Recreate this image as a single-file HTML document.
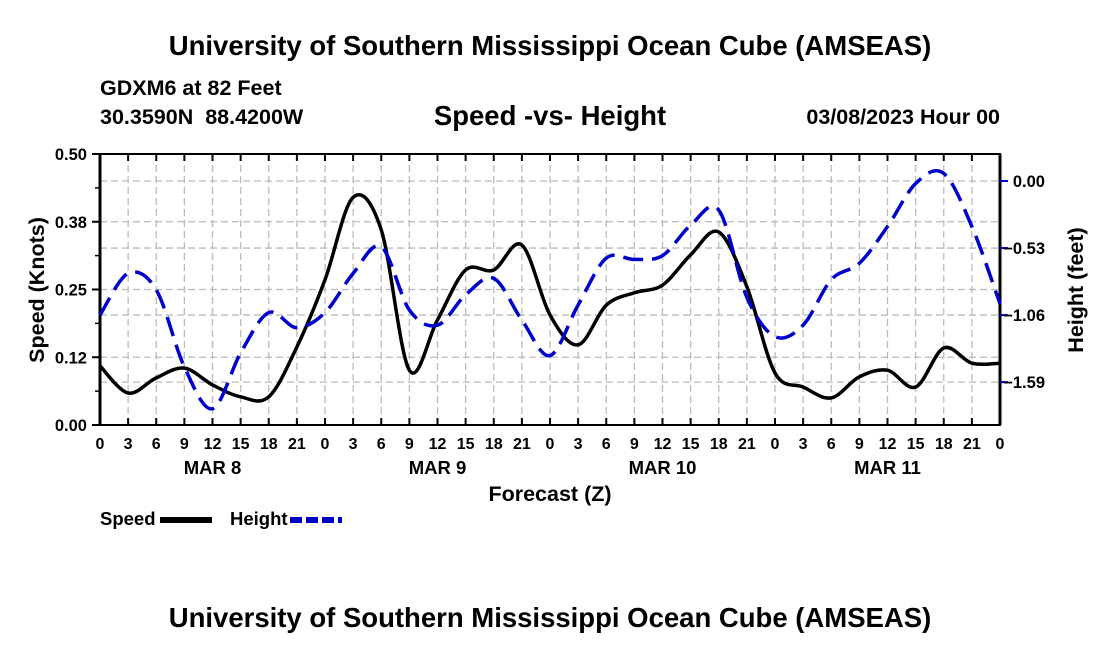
<!DOCTYPE html>
<html><head><meta charset="utf-8"><style>
body{margin:0;background:#fff;font-family:"Liberation Sans",sans-serif}
svg text{font-family:"Liberation Sans",sans-serif;font-weight:bold;fill:#000;white-space:pre}
</style></head><body>
<svg id="c" width="1100" height="650">
<text x="550" y="55" font-size="27.5" text-anchor="middle">University of Southern Mississippi Ocean Cube (AMSEAS)</text>
<text x="100" y="95" font-size="21.5">GDXM6 at 82 Feet</text>
<text x="100" y="124" font-size="21.5" xml:space="preserve">30.3590N  88.4200W</text>
<text x="550" y="125" font-size="27.5" text-anchor="middle">Speed -vs- Height</text>
<text x="1000" y="124" font-size="21.5" text-anchor="end">03/08/2023 Hour 00</text>
<text x="550" y="627" font-size="27.5" text-anchor="middle">University of Southern Mississippi Ocean Cube (AMSEAS)</text>
<g id="grid"></g><g id="axes"></g><g id="series"></g>
<text x="550" y="501" font-size="21.5" text-anchor="middle">Forecast (Z)</text>
<text transform="translate(44,290) rotate(-90)" font-size="21.5" text-anchor="middle">Speed (Knots)</text>
<text transform="translate(1083,290) rotate(-90)" font-size="21.5" text-anchor="middle">Height (feet)</text>
<g><text x="100" y="525" font-size="18.5">Speed</text><line x1="160" y1="520" x2="212" y2="520" stroke="#000" stroke-width="6"/></g>
<g><text x="230" y="525" font-size="18.5">Height</text><line x1="290" y1="520" x2="342" y2="520" stroke="#00c" stroke-width="6" stroke-dasharray="12,4"/></g>
</svg>
<script>
const hours=[0,3,6,9,12,15,18,21,24,27,30,33,36,39,42,45,48,51,54,57,60,63,66,69,72,75,78,81,84,87,90,93,96];
const speed=[0.109,0.059,0.087,0.105,0.074,0.052,0.052,0.144,0.268,0.42,0.36,0.101,0.194,0.286,0.286,0.332,0.203,0.148,0.221,0.244,0.258,0.314,0.356,0.255,0.096,0.070,0.050,0.089,0.101,0.070,0.142,0.114,0.114];
const height=[-1.06,-0.73,-0.86,-1.47,-1.80,-1.36,-1.04,-1.16,-1.04,-0.73,-0.52,-1.02,-1.14,-0.90,-0.77,-1.10,-1.38,-0.98,-0.61,-0.62,-0.59,-0.35,-0.23,-0.92,-1.23,-1.14,-0.78,-0.65,-0.36,-0.02,0.06,-0.36,-0.97];
const speedTicks=[0,0.125,0.25,0.375,0.5];
const speedTickLabels=["0.00","0.12","0.25","0.38","0.50"];
const heightTicks=[0,-0.53,-1.06,-1.59];
const heightTickLabels=["0.00","\u22120.53","\u22121.06","\u22121.59"];
const dayLabels=["MAR 8","MAR 9","MAR 10","MAR 11"];
const L=100,R=1000,T=154,B=425;
const hMax=0.2136,hMin=-1.929;
const x=h=>L+(h/96)*(R-L);
const y=v=>B-(v/0.5)*(B-T);
const y2=v=>T+(hMax-v)/(hMax-hMin)*(B-T);
const NS='http://www.w3.org/2000/svg';
function mk(t,a,p){const e=document.createElementNS(NS,t);for(const k in a)e.setAttribute(k,a[k]);p.appendChild(e);return e;}
const grid=document.getElementById('grid'),axes=document.getElementById('axes'),ser=document.getElementById('series');
for(let h=3;h<96;h+=3){const l=mk('line',{x1:x(h),x2:x(h),y1:T,y2:B,stroke:'#bbb','stroke-width':1.3,'stroke-dasharray':'7,4'},grid);

}
speedTicks.forEach(v=>{const l=mk('line',{x1:L,x2:R,y1:y(v),y2:y(v),stroke:'#bbb','stroke-width':1.3,'stroke-dasharray':'7,4'},grid);

});
heightTicks.forEach(v=>{const l=mk('line',{x1:L,x2:R,y1:y2(v),y2:y2(v),stroke:'#bbb','stroke-width':1.3,'stroke-dasharray':'7,4'},grid);

});
mk('rect',{x:L,y:T,width:R-L,height:B-T,fill:'none',stroke:'#000','stroke-width':2},axes);
mk('line',{x1:L,x2:L,y1:T,y2:B,stroke:'#000','stroke-width':3},axes);
mk('line',{x1:R,x2:R,y1:T,y2:B,stroke:'#000','stroke-width':3},axes);
mk('line',{x1:L,x2:R,y1:T,y2:T,stroke:'#000','stroke-width':2,'stroke-dasharray':'2,3'},axes);
speedTicks.forEach((v,i)=>{mk('line',{x1:L-8,x2:L,y1:y(v),y2:y(v),stroke:'#000','stroke-width':2},axes);
const t=mk('text',{x:L-13,y:y(v)+6,'font-size':16.5,'text-anchor':'end'},axes);t.textContent=speedTickLabels[i];


if(i<speedTicks.length-1){const m=y(v+0.0625);mk('line',{x1:L-5,x2:L,y1:m,y2:m,stroke:'#000','stroke-width':1.5},axes);}});
heightTicks.forEach((v,i)=>{mk('line',{x1:R,x2:R+8,y1:y2(v),y2:y2(v),stroke:'#00c','stroke-width':2},axes);
const t=mk('text',{x:1045,y:y2(v)+6,'font-size':16.5,'text-anchor':'end'},axes);t.textContent=heightTickLabels[i];

});
for(let h=0;h<=96;h+=3){mk('line',{x1:x(h),x2:x(h),y1:B,y2:B-7,stroke:'#000','stroke-width':2},axes);mk('line',{x1:x(h),x2:x(h),y1:T,y2:T+7,stroke:'#000','stroke-width':2},axes);
const t=mk('text',{x:x(h),y:449,'font-size':16,'text-anchor':'middle'},axes);t.textContent=String(h%24);

}
dayLabels.forEach((d,i)=>{const t=mk('text',{x:x(i*24+12),y:474,'font-size':18.5,'text-anchor':'middle'},axes);t.textContent=d;

});
function path(pts){let d='M'+pts[0][0]+','+pts[0][1];for(let i=0;i<pts.length-1;i++){const p0=pts[Math.max(0,i-1)],p1=pts[i],p2=pts[i+1],p3=pts[Math.min(pts.length-1,i+2)];
d+=' C'+(p1[0]+(p2[0]-p0[0])/6)+','+(p1[1]+(p2[1]-p0[1])/6)+' '+(p2[0]-(p3[0]-p1[0])/6)+','+(p2[1]-(p3[1]-p1[1])/6)+' '+p2[0]+','+p2[1];}return d;}
const sp=mk('path',{d:path(hours.map((h,i)=>[x(h),y(speed[i])])),fill:'none',stroke:'#000','stroke-width':3.5},ser);


const hp=mk('path',{d:path(hours.map((h,i)=>[x(h),y2(height[i])])),fill:'none',stroke:'#00c','stroke-width':3.5,'stroke-dasharray':'20,9'},ser);


</script>
</body></html>
